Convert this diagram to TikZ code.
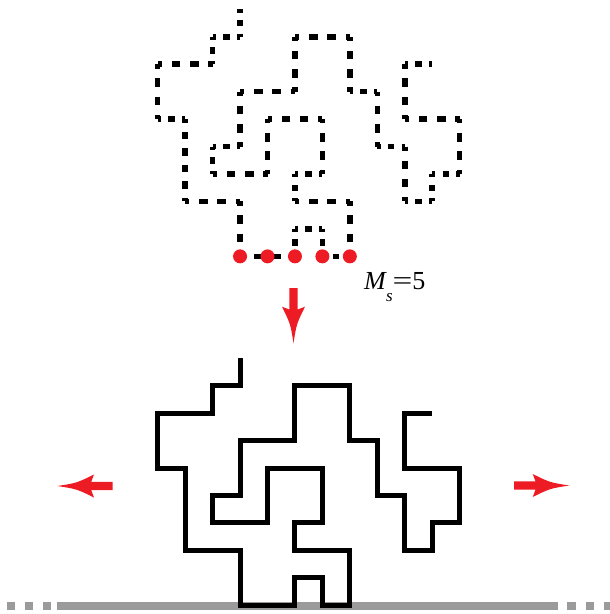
\documentclass[tikz,border=0pt]{standalone}
\usepackage{fontspec}
\usepackage{graphicx}
\setmainfont{Liberation Serif}
\definecolor{arrowred}{RGB}{237,28,36}
\definecolor{basegray}{RGB}{155,155,155}
\tikzset{
  walkline/.style={line width=5pt, line join=miter, draw=black},
  dotrun/.style={line width=5.5pt, draw=black},
  bead/.style={circle, fill=arrowred, inner sep=0pt, minimum size=14pt},
  groundline/.style={line width=8.3pt, draw=basegray},
  redarrow/.pic={
    \fill[arrowred] (0,-4.2) -- (21.5,-4.2) -- (18.7,-11.5)
      .. controls (36,-3) .. (55.3,0)
      .. controls (36,3) .. (18.7,11.5) -- (21.5,4.2) -- (0,4.2) -- cycle;
  }
}
\begin{document}
\begin{tikzpicture}[x=1pt,y=-1pt]
\useasboundingbox (0,0) rectangle (610,614);

% ground line
\draw[groundline] (56.7,606) -- (558.3,606);
\draw[groundline, dash pattern=on 8.2pt off 9.8pt] (6.7,606) -- (51,606);
\draw[groundline, dash pattern=on 8.5pt off 9.8pt] (567.3,606) -- (614,606);

% top: dotted walk
\begin{scope}[shift={(157.7pt,-9.3pt)}, x=27.45pt, y=-27.45pt]
\foreach \x/\y [remember=\x as \px (initially 3), remember=\y as \py (initially 0)] in
  {3/1,2/1,2/2,0/2,0/4,1/4,1/7,3/7,3/9,5/9,5/8,6/8,6/9,7/9,7/7,5/7,5/6,6/6,6/4,4/4,
   4/6,2/6,2/5,3/5,3/3,5/3,5/1,7/1,7/3,8/3,8/5,9/5,9/7,10/7,10/6,11/6,11/4,9/4,9/2,10/2}
{
  \pgfmathsetmacro\runL{abs(\x-\px)+abs(\y-\py)}
  \pgfmathsetmacro\runK{\runL<1.5 ? 2 : (\runL<2.5 ? 3 : 5)}
  \pgfmathsetmacro\runP{\runL*27.45/\runK}
  \pgfmathsetmacro\dOn{0.47*\runP}
  \pgfmathsetmacro\dOff{\runP-\dOn}
  \pgfmathsetmacro\dPh{\dOn/2}
  \draw[dotrun, dash pattern=on \dOn pt off \dOff pt, dash phase=\dPh pt] (\px,\py) -- (\x,\y);
}
\foreach \i in {3,...,7} {
  \node[bead] (m\i) at (\i,9) {};
}
\end{scope}

% label
\node[anchor=base west, inner sep=0pt, font=\fontsize{26}{30}\selectfont] (ms) at (364,289)
  {\textit{M}\kern-1pt\raisebox{-12pt}{\fontsize{17}{17}\selectfont\textit{s}}\scalebox{1.35}[1]{=}5};

% arrows
\pic at (293.5,288) [rotate=-90] {redarrow};
\pic at (112.7,486) [rotate=180] {redarrow};
\pic at (514,485.5) {redarrow};

% bottom: solid walk
\begin{scope}[shift={(157.7pt,-358.2pt)}, x=27.45pt, y=-27.45pt]
\draw[walkline] (3,0) -- (3,1) -- (2,1) -- (2,2) -- (0,2) -- (0,4) -- (1,4) -- (1,7) -- (3,7) -- (3,9)
  -- (5,9) -- (5,8) -- (6,8) -- (6,9) -- (7,9) -- (7,7) -- (5,7) -- (5,6) -- (6,6) -- (6,4)
  -- (4,4) -- (4,6) -- (2,6) -- (2,5) -- (3,5) -- (3,3) -- (5,3) -- (5,1) -- (7,1) -- (7,3)
  -- (8,3) -- (8,5) -- (9,5) -- (9,7) -- (10,7) -- (10,6) -- (11,6) -- (11,4) -- (9,4) -- (9,2) -- (10,2);
\end{scope}
\end{tikzpicture}
\end{document}
